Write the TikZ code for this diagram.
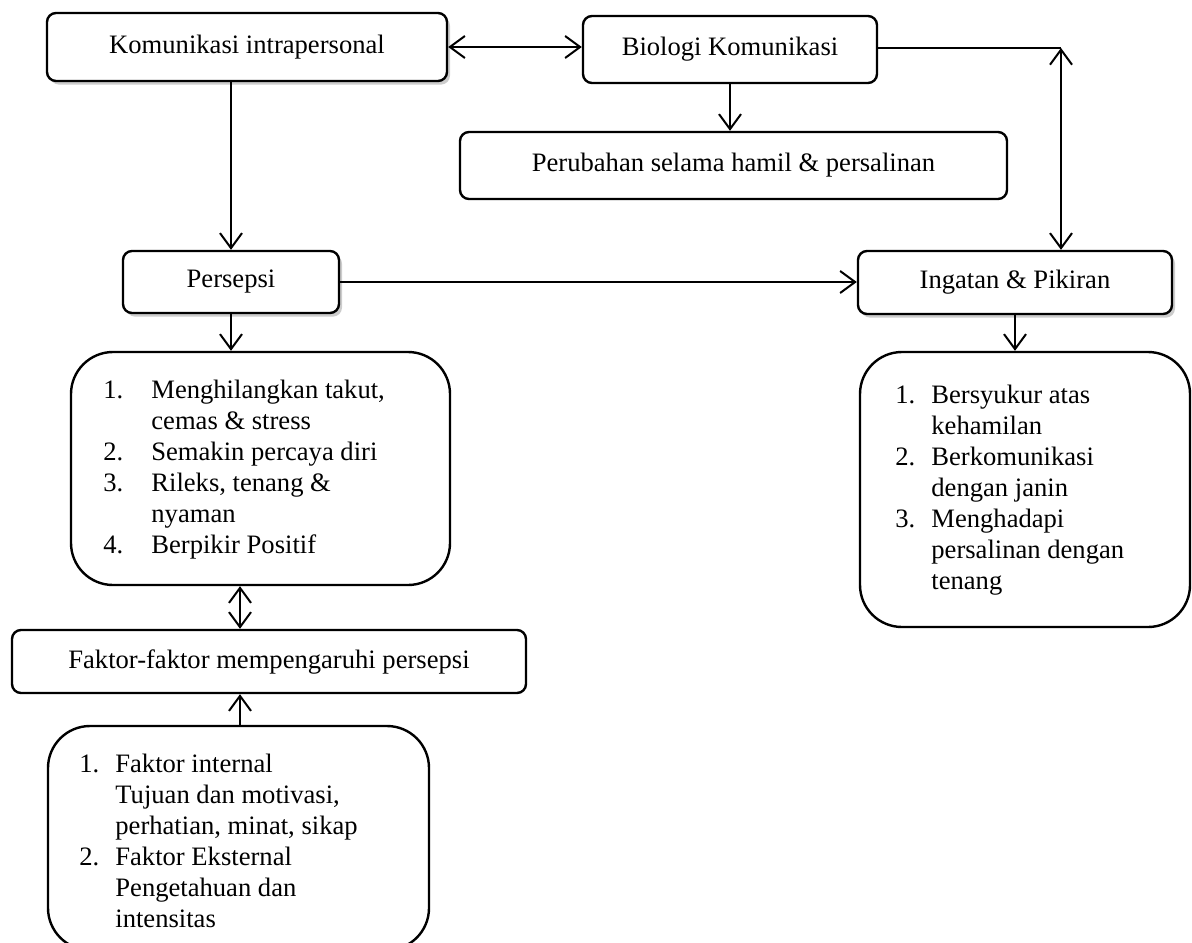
\documentclass[tikz,border=0pt]{standalone}
\usepackage{fontspec}
\setmainfont{Liberation Serif}
\usetikzlibrary{arrows.meta,shadows}
\newcommand\lnumA[1]{\makebox[24pt][l]{#1}}
\newcommand\lnumB[1]{\makebox[18pt][l]{#1}}
\begin{document}
\begin{tikzpicture}[x=0.5pt,y=-0.5pt,
  font=\fontsize{13.3pt}{15.5pt}\selectfont,
  box/.style={draw, line width=1.2pt, rounded corners=4.5pt, inner sep=0pt, align=center, fill=white},
  shbox/.style={box, drop shadow={shadow xshift=1.5pt, shadow yshift=-1.8pt, opacity=0.4}},
  listbox/.style={draw, line width=1.2pt, rounded corners=21pt, inner sep=0pt},
  listtxt/.style={inner sep=0pt, anchor=west, align=left},
  arr/.style={line width=1pt, -{Straight Barb[length=7.5pt,width=11pt]}},
  darr/.style={line width=1pt, {Straight Barb[length=7.5pt,width=11pt]}-{Straight Barb[length=7.5pt,width=11pt]}},
]
\useasboundingbox (0,0) rectangle (1192,942);

\node[shbox, minimum width=200pt, minimum height=34pt] (kom) at (247,47) {Komunikasi intrapersonal};
\node[box, minimum width=147pt, minimum height=33.5pt] (bio) at (730,49.5) {Biologi Komunikasi};
\node[box, minimum width=273.5pt, minimum height=33.5pt] (per) at (733.5,165.5) {Perubahan selama hamil \& persalinan};
\node[shbox, minimum width=108pt, minimum height=31pt] (pers) at (231,282) {Persepsi};
\node[shbox, minimum width=157pt, minimum height=31.5pt] (ing) at (1015,282.5) {Ingatan \& Pikiran};
\node[listbox, minimum width=189.5pt, minimum height=116.5pt] (l1) at (260.5,468.5) {};
\node[listbox, minimum width=165pt, minimum height=137.5pt] (l2) at (1025,489.5) {};
\node[box, minimum width=257pt, minimum height=31.5pt] (fak) at (269,661.5) {Faktor-faktor mempengaruhi persepsi};
\node[listbox, minimum width=190.5pt, minimum height=112pt] (l3) at (238.5,838) {};

\node[listtxt] (t1) at (103,469.5) {\lnumA{1.}Menghilangkan takut,\\\hspace*{24pt}cemas \& stress\\\lnumA{2.}Semakin percaya diri\\\lnumA{3.}Rileks, tenang \&\\\hspace*{24pt}nyaman\\\lnumA{4.}Berpikir Positif};
\node[listtxt] (t2) at (895,490.5) {\lnumB{1.}Bersyukur atas\\\hspace*{18pt}kehamilan\\\lnumB{2.}Berkomunikasi\\\hspace*{18pt}dengan janin\\\lnumB{3.}Menghadapi\\\hspace*{18pt}persalinan dengan\\\hspace*{18pt}tenang};
\node[listtxt] (t3) at (79,841) {\lnumB{1.}Faktor internal\\\hspace*{18pt}Tujuan dan motivasi,\\\hspace*{18pt}perhatian, minat, sikap\\\lnumB{2.}Faktor Eksternal\\\hspace*{18pt}Pengetahuan dan\\\hspace*{18pt}intensitas};

\coordinate (c1) at (1061,48);
\coordinate (c2) at (240,600);

\draw[darr] (kom.east) -- (kom.east -| bio.west);
\draw[arr] (kom.south -| pers.north) -- (pers.north);
\draw[arr] (bio.south) -- (bio.south |- per.north);
\draw[line width=0.7pt] (bio.east |- c1) -- (c1);
\draw[darr] (c1) -- (c1 |- ing.north);
\draw[arr] (pers.east) -- (pers.east -| ing.west);
\draw[arr] (pers.south) -- (pers.south |- l1.north);
\draw[arr] (ing.south) -- (ing.south |- l2.north);
\draw[darr] (l1.south -| c2) -- (fak.north -| c2);
\draw[arr] (l3.north -| c2) -- (fak.south -| c2);
\end{tikzpicture}
\end{document}
